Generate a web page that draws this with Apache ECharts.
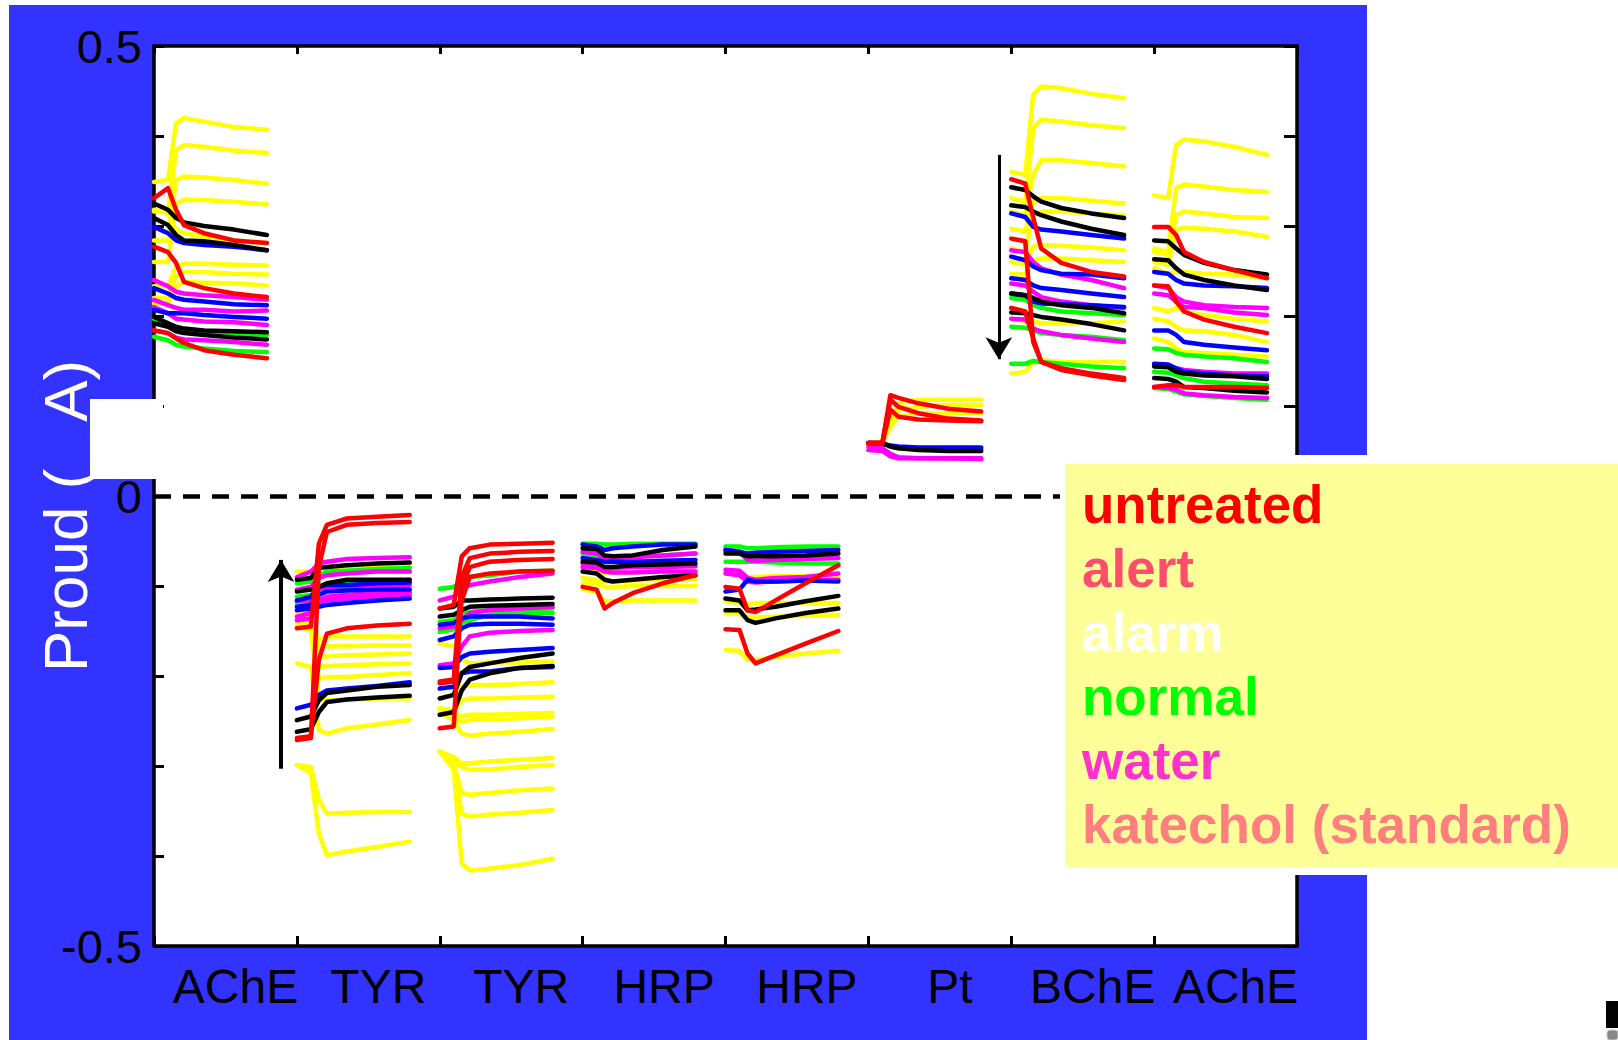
<!DOCTYPE html>
<html>
<head>
<meta charset="utf-8">
<script src="https://cdn.jsdelivr.net/npm/echarts@6/dist/echarts.min.js"></script>
<style>
  html, body { margin: 0; padding: 0; background: #ffffff; }
  #chart { width: 1618px; height: 1040px; }
</style>
</head>
<body>
<div id="chart"></div>
<script>
// Enzyme electrode responses: each band is one electrode, each trace one sample.
const bandLabels = ['AChE', 'TYR', 'TYR', 'HRP', 'HRP', 'Pt', 'BChE', 'AChE'];

// Sampling instants inside a band (fraction of band width)
const sampleTimes = [0, 0.098, 0.154, 0.21, 0.35, 0.56, 0.79];

// Trace key: Y yellow, G green, M magenta, B blue, K black, R red ; values in µA
const ache1Traces = [
  ['Y', 0.349, 0.351, 0.414, 0.420, 0.416, 0.410, 0.407],
  ['Y', 0.316, 0.316, 0.384, 0.390, 0.388, 0.384, 0.381],
  ['Y', 0.284, 0.284, 0.351, 0.355, 0.354, 0.351, 0.347],
  ['Y', 0.260, 0.260, 0.325, 0.329, 0.329, 0.327, 0.324],
  ['Y', 0.233, 0.233, 0.255, 0.258, 0.258, 0.257, 0.256],
  ['Y', 0.220, 0.220, 0.244, 0.249, 0.249, 0.247, 0.246],
  ['Y', 0.214, 0.214, 0.233, 0.238, 0.237, 0.236, 0.234],
  ['Y', 0.318, 0.314, 0.296, 0.292, 0.288, 0.284, 0.281],
  ['G', 0.197, 0.192, 0.186, 0.184, 0.183, 0.181, 0.179],
  ['G', 0.177, 0.173, 0.168, 0.166, 0.164, 0.161, 0.160],
  ['M', 0.240, 0.233, 0.227, 0.225, 0.223, 0.221, 0.218],
  ['M', 0.218, 0.212, 0.209, 0.207, 0.207, 0.205, 0.206],
  ['M', 0.210, 0.203, 0.197, 0.196, 0.194, 0.193, 0.190],
  ['M', 0.184, 0.181, 0.176, 0.174, 0.173, 0.171, 0.168],
  ['B', 0.299, 0.292, 0.284, 0.281, 0.279, 0.277, 0.273],
  ['B', 0.231, 0.225, 0.220, 0.218, 0.216, 0.213, 0.212],
  ['B', 0.207, 0.203, 0.203, 0.203, 0.201, 0.199, 0.197],
  ['K', 0.325, 0.318, 0.309, 0.304, 0.300, 0.296, 0.290],
  ['K', 0.309, 0.301, 0.290, 0.284, 0.283, 0.279, 0.273],
  ['K', 0.199, 0.192, 0.188, 0.186, 0.184, 0.183, 0.182],
  ['K', 0.192, 0.188, 0.183, 0.181, 0.179, 0.176, 0.174],
  ['R', 0.331, 0.342, 0.318, 0.301, 0.292, 0.284, 0.281],
  ['R', 0.277, 0.271, 0.259, 0.238, 0.231, 0.225, 0.221],
  ['R', 0.184, 0.181, 0.175, 0.170, 0.162, 0.157, 0.153]
];

const tyr1Traces = [
  ['Y', -0.084, -0.084, -0.080, -0.079, -0.078, -0.077, -0.077],
  ['Y', -0.130, -0.132, -0.160, -0.156, -0.156, -0.156, -0.156],
  ['Y', -0.132, -0.134, -0.167, -0.167, -0.167, -0.166, -0.166],
  ['Y', -0.134, -0.138, -0.179, -0.178, -0.177, -0.176, -0.175],
  ['Y', -0.138, -0.141, -0.190, -0.189, -0.188, -0.187, -0.186],
  ['Y', -0.141, -0.145, -0.203, -0.201, -0.201, -0.199, -0.197],
  ['Y', -0.145, -0.149, -0.227, -0.227, -0.226, -0.225, -0.225],
  ['Y', -0.186, -0.190, -0.260, -0.264, -0.258, -0.254, -0.249],
  ['Y', -0.299, -0.301, -0.338, -0.353, -0.352, -0.351, -0.351],
  ['Y', -0.299, -0.308, -0.375, -0.399, -0.395, -0.390, -0.384],
  ['G', -0.097, -0.095, -0.088, -0.084, -0.083, -0.081, -0.080],
  ['G', -0.112, -0.110, -0.103, -0.099, -0.097, -0.096, -0.095],
  ['G', -0.119, -0.117, -0.108, -0.104, -0.101, -0.097, -0.093],
  ['M', -0.090, -0.084, -0.075, -0.073, -0.070, -0.069, -0.068],
  ['M', -0.104, -0.101, -0.091, -0.088, -0.086, -0.084, -0.084],
  ['M', -0.116, -0.116, -0.104, -0.101, -0.100, -0.099, -0.099],
  ['M', -0.134, -0.130, -0.116, -0.112, -0.110, -0.108, -0.107],
  ['M', -0.138, -0.136, -0.119, -0.116, -0.114, -0.112, -0.110],
  ['B', -0.116, -0.112, -0.101, -0.099, -0.099, -0.097, -0.096],
  ['B', -0.123, -0.121, -0.110, -0.106, -0.105, -0.104, -0.104],
  ['B', -0.127, -0.125, -0.123, -0.121, -0.119, -0.116, -0.114],
  ['B', -0.236, -0.232, -0.221, -0.216, -0.214, -0.211, -0.207],
  ['K', -0.093, -0.091, -0.080, -0.079, -0.077, -0.075, -0.074],
  ['K', -0.106, -0.104, -0.101, -0.097, -0.093, -0.093, -0.093],
  ['K', -0.249, -0.245, -0.227, -0.219, -0.216, -0.212, -0.210],
  ['K', -0.262, -0.259, -0.240, -0.229, -0.226, -0.224, -0.222],
  ['R', -0.147, -0.145, -0.053, -0.032, -0.025, -0.023, -0.021],
  ['R', -0.271, -0.269, -0.079, -0.040, -0.032, -0.030, -0.029],
  ['R', -0.269, -0.267, -0.182, -0.153, -0.147, -0.144, -0.142]
];

const tyr2Traces = [
  ['Y', -0.164, -0.167, -0.182, -0.186, -0.185, -0.185, -0.184],
  ['Y', -0.236, -0.238, -0.212, -0.210, -0.210, -0.209, -0.207],
  ['Y', -0.236, -0.240, -0.227, -0.225, -0.225, -0.224, -0.223],
  ['Y', -0.236, -0.241, -0.245, -0.243, -0.243, -0.242, -0.241],
  ['Y', -0.241, -0.245, -0.251, -0.249, -0.248, -0.247, -0.245],
  ['Y', -0.241, -0.249, -0.264, -0.266, -0.264, -0.262, -0.259],
  ['Y', -0.284, -0.290, -0.297, -0.297, -0.295, -0.293, -0.291],
  ['Y', -0.284, -0.293, -0.301, -0.304, -0.304, -0.301, -0.299],
  ['Y', -0.284, -0.297, -0.330, -0.332, -0.330, -0.327, -0.325],
  ['Y', -0.284, -0.301, -0.353, -0.356, -0.354, -0.352, -0.349],
  ['Y', -0.284, -0.304, -0.408, -0.416, -0.414, -0.410, -0.403],
  ['G', -0.103, -0.101, -0.095, -0.090, -0.088, -0.084, -0.083],
  ['G', -0.140, -0.138, -0.132, -0.129, -0.127, -0.126, -0.125],
  ['G', -0.151, -0.148, -0.141, -0.138, -0.132, -0.130, -0.130],
  ['M', -0.116, -0.112, -0.104, -0.099, -0.095, -0.090, -0.086],
  ['M', -0.147, -0.145, -0.138, -0.130, -0.127, -0.125, -0.123],
  ['M', -0.188, -0.186, -0.167, -0.156, -0.152, -0.150, -0.149],
  ['B', -0.143, -0.141, -0.136, -0.134, -0.134, -0.134, -0.136],
  ['B', -0.160, -0.156, -0.147, -0.143, -0.142, -0.142, -0.143],
  ['B', -0.191, -0.190, -0.179, -0.175, -0.173, -0.171, -0.169],
  ['B', -0.214, -0.212, -0.197, -0.195, -0.195, -0.191, -0.190],
  ['K', -0.125, -0.123, -0.116, -0.116, -0.115, -0.114, -0.113],
  ['K', -0.134, -0.132, -0.127, -0.123, -0.122, -0.121, -0.120],
  ['K', -0.225, -0.221, -0.197, -0.190, -0.186, -0.180, -0.175],
  ['K', -0.243, -0.240, -0.216, -0.204, -0.197, -0.191, -0.189],
  ['R', -0.125, -0.121, -0.067, -0.058, -0.054, -0.053, -0.052],
  ['R', -0.206, -0.204, -0.090, -0.069, -0.064, -0.062, -0.061],
  ['R', -0.258, -0.256, -0.101, -0.079, -0.073, -0.071, -0.070],
  ['R', -0.208, -0.206, -0.116, -0.090, -0.086, -0.084, -0.083]
];

const hrp1Traces = [
  ['Y', -0.082, -0.084, -0.086, -0.085, -0.085, -0.084, -0.083],
  ['Y', -0.091, -0.093, -0.095, -0.095, -0.094, -0.093, -0.093],
  ['Y', -0.097, -0.098, -0.101, -0.101, -0.100, -0.100, -0.100],
  ['Y', -0.104, -0.106, -0.117, -0.117, -0.116, -0.116, -0.116],
  ['G', -0.053, -0.053, -0.054, -0.054, -0.053, -0.053, -0.053],
  ['G', -0.064, -0.066, -0.069, -0.067, -0.067, -0.066, -0.064],
  ['M', -0.062, -0.064, -0.069, -0.069, -0.068, -0.066, -0.064],
  ['M', -0.075, -0.077, -0.080, -0.080, -0.079, -0.079, -0.078],
  ['M', -0.079, -0.080, -0.084, -0.085, -0.085, -0.084, -0.084],
  ['B', -0.054, -0.056, -0.060, -0.058, -0.056, -0.054, -0.054],
  ['B', -0.069, -0.071, -0.073, -0.073, -0.073, -0.072, -0.071],
  ['K', -0.058, -0.059, -0.066, -0.067, -0.066, -0.060, -0.056],
  ['K', -0.073, -0.074, -0.079, -0.079, -0.077, -0.076, -0.075],
  ['K', -0.084, -0.086, -0.093, -0.095, -0.093, -0.090, -0.088],
  ['R', -0.101, -0.104, -0.125, -0.119, -0.108, -0.097, -0.088]
];

const hrp2Traces = [
  ['Y', -0.086, -0.087, -0.090, -0.090, -0.089, -0.089, -0.089],
  ['Y', -0.117, -0.119, -0.121, -0.119, -0.119, -0.119, -0.119],
  ['Y', -0.130, -0.131, -0.135, -0.135, -0.134, -0.133, -0.132],
  ['Y', -0.171, -0.172, -0.182, -0.182, -0.179, -0.175, -0.172],
  ['G', -0.056, -0.056, -0.058, -0.058, -0.057, -0.056, -0.056],
  ['G', -0.073, -0.073, -0.073, -0.073, -0.074, -0.075, -0.075],
  ['M', -0.060, -0.062, -0.071, -0.072, -0.071, -0.070, -0.069],
  ['M', -0.082, -0.083, -0.091, -0.093, -0.091, -0.090, -0.086],
  ['M', -0.086, -0.088, -0.095, -0.096, -0.095, -0.094, -0.093],
  ['B', -0.060, -0.062, -0.064, -0.063, -0.062, -0.061, -0.060],
  ['B', -0.106, -0.104, -0.093, -0.095, -0.095, -0.094, -0.095],
  ['K', -0.064, -0.064, -0.067, -0.067, -0.067, -0.066, -0.064],
  ['K', -0.114, -0.116, -0.127, -0.126, -0.123, -0.117, -0.111],
  ['K', -0.127, -0.127, -0.138, -0.141, -0.136, -0.130, -0.125],
  ['R', -0.101, -0.103, -0.127, -0.129, -0.116, -0.097, -0.077],
  ['R', -0.148, -0.149, -0.175, -0.186, -0.177, -0.164, -0.150]
];

const ptTraces = [
  ['Y', 0.059, 0.059, 0.084, 0.103, 0.107, 0.107, 0.107],
  ['Y', 0.059, 0.059, 0.081, 0.096, 0.099, 0.101, 0.101],
  ['Y', 0.059, 0.059, 0.077, 0.088, 0.092, 0.092, 0.092],
  ['G', 0.059, 0.058, 0.055, 0.053, 0.052, 0.052, 0.052],
  ['M', 0.055, 0.053, 0.047, 0.043, 0.042, 0.042, 0.042],
  ['M', 0.051, 0.050, 0.044, 0.042, 0.042, 0.042, 0.041],
  ['B', 0.059, 0.058, 0.056, 0.055, 0.054, 0.054, 0.054],
  ['K', 0.059, 0.059, 0.055, 0.053, 0.051, 0.050, 0.050],
  ['R', 0.059, 0.059, 0.112, 0.109, 0.103, 0.097, 0.094],
  ['R', 0.059, 0.059, 0.107, 0.099, 0.092, 0.086, 0.084],
  ['R', 0.059, 0.059, 0.096, 0.088, 0.085, 0.084, 0.083]
];

const bcheTraces = [
  ['Y', 0.360, 0.357, 0.446, 0.455, 0.453, 0.447, 0.442],
  ['Y', 0.331, 0.327, 0.409, 0.418, 0.416, 0.412, 0.409],
  ['Y', 0.316, 0.312, 0.357, 0.373, 0.373, 0.370, 0.366],
  ['Y', 0.297, 0.294, 0.327, 0.331, 0.331, 0.328, 0.325],
  ['Y', 0.275, 0.271, 0.312, 0.316, 0.316, 0.314, 0.312],
  ['Y', 0.260, 0.257, 0.277, 0.279, 0.278, 0.276, 0.273],
  ['Y', 0.247, 0.246, 0.262, 0.264, 0.264, 0.262, 0.260],
  ['Y', 0.197, 0.194, 0.194, 0.192, 0.192, 0.192, 0.194],
  ['Y', 0.136, 0.138, 0.149, 0.151, 0.149, 0.149, 0.149],
  ['G', 0.220, 0.218, 0.212, 0.209, 0.205, 0.203, 0.201],
  ['G', 0.188, 0.187, 0.184, 0.181, 0.179, 0.177, 0.173],
  ['G', 0.147, 0.147, 0.150, 0.149, 0.147, 0.144, 0.142],
  ['M', 0.273, 0.271, 0.260, 0.253, 0.246, 0.240, 0.231],
  ['M', 0.236, 0.234, 0.227, 0.221, 0.216, 0.212, 0.209],
  ['M', 0.197, 0.196, 0.186, 0.183, 0.179, 0.175, 0.171],
  ['B', 0.314, 0.310, 0.299, 0.296, 0.294, 0.290, 0.286],
  ['B', 0.266, 0.262, 0.255, 0.251, 0.247, 0.246, 0.242],
  ['B', 0.242, 0.240, 0.234, 0.231, 0.229, 0.225, 0.221],
  ['B', 0.225, 0.223, 0.216, 0.214, 0.213, 0.212, 0.210],
  ['K', 0.343, 0.340, 0.333, 0.327, 0.320, 0.314, 0.309],
  ['K', 0.323, 0.321, 0.316, 0.312, 0.305, 0.297, 0.290],
  ['K', 0.225, 0.223, 0.220, 0.216, 0.212, 0.209, 0.203],
  ['K', 0.204, 0.203, 0.201, 0.199, 0.196, 0.191, 0.184],
  ['R', 0.352, 0.347, 0.309, 0.275, 0.259, 0.249, 0.244],
  ['R', 0.286, 0.283, 0.171, 0.149, 0.142, 0.136, 0.131],
  ['R', 0.209, 0.205, 0.175, 0.149, 0.140, 0.134, 0.129]
];

const ache2Traces = [
  ['Y', 0.334, 0.331, 0.390, 0.396, 0.394, 0.388, 0.379],
  ['Y', 0.275, 0.271, 0.342, 0.346, 0.344, 0.340, 0.338],
  ['Y', 0.271, 0.268, 0.312, 0.316, 0.314, 0.310, 0.309],
  ['Y', 0.260, 0.257, 0.296, 0.298, 0.297, 0.294, 0.288],
  ['Y', 0.253, 0.247, 0.249, 0.249, 0.247, 0.246, 0.242],
  ['Y', 0.209, 0.205, 0.209, 0.205, 0.201, 0.197, 0.194],
  ['Y', 0.197, 0.194, 0.188, 0.184, 0.183, 0.179, 0.171],
  ['Y', 0.175, 0.171, 0.164, 0.160, 0.159, 0.157, 0.155],
  ['G', 0.164, 0.163, 0.159, 0.157, 0.155, 0.153, 0.149],
  ['G', 0.138, 0.137, 0.134, 0.131, 0.127, 0.125, 0.123],
  ['G', 0.120, 0.119, 0.116, 0.113, 0.111, 0.109, 0.107],
  ['M', 0.234, 0.231, 0.221, 0.216, 0.212, 0.210, 0.209],
  ['M', 0.225, 0.223, 0.216, 0.210, 0.209, 0.204, 0.201],
  ['M', 0.146, 0.144, 0.142, 0.140, 0.138, 0.136, 0.136],
  ['M', 0.121, 0.120, 0.118, 0.114, 0.112, 0.110, 0.109],
  ['B', 0.249, 0.247, 0.240, 0.236, 0.234, 0.233, 0.231],
  ['B', 0.184, 0.184, 0.179, 0.171, 0.168, 0.165, 0.162],
  ['B', 0.147, 0.146, 0.142, 0.138, 0.136, 0.134, 0.133],
  ['K', 0.284, 0.283, 0.275, 0.268, 0.259, 0.251, 0.246],
  ['K', 0.263, 0.262, 0.253, 0.246, 0.240, 0.234, 0.229],
  ['K', 0.144, 0.143, 0.138, 0.136, 0.134, 0.133, 0.130],
  ['K', 0.131, 0.130, 0.127, 0.121, 0.120, 0.117, 0.115],
  ['R', 0.299, 0.299, 0.290, 0.271, 0.260, 0.251, 0.242],
  ['R', 0.234, 0.233, 0.216, 0.205, 0.196, 0.188, 0.181],
  ['R', 0.121, 0.123, 0.123, 0.121, 0.121, 0.121, 0.120]
];

const bands = [ache1Traces, tyr1Traces, tyr2Traces, hrp1Traces, hrp2Traces, ptTraces, bcheTraces, ache2Traces];

// Arrows marking the direction of change: [x, from, to]
const upArrow = [0.889, -0.303, -0.071];
const downArrow = [5.913, 0.379, 0.152];

const legendLabels = ['untreated', 'alert', 'alarm', 'normal', 'water', 'katechol (standard)'];

// ---- styling ----
const FONT = '"Liberation Sans", Arial, Helvetica, sans-serif';
const traceColors = { Y: '#FFFF00', G: '#00FF00', M: '#FF00FF', B: '#0000FF', K: '#000000', R: '#FF0000' };
const traceLayer = { Y: 1, G: 2, M: 3, B: 4, K: 5, R: 6 };
const legendColors = ['#FF0000', '#FF4D6D', '#FFFFFF', '#00FF00', '#FF33CC', '#FF7F7F'];

const series = [];
bands.forEach((traces, b) => {
  traces.forEach(([key, ...vals]) => {
    series.push({
      type: 'line',
      xAxisIndex: 0,
      yAxisIndex: 0,
      data: vals.map((v, i) => [b + sampleTimes[i], v]),
      showSymbol: false,
      symbol: 'none',
      silent: true,
      z: 2 + traceLayer[key],
      lineStyle: { color: traceColors[key], width: 4.5, cap: 'round', join: 'round' }
    });
  });
});

// zero reference line and the two arrows
series.push({
  type: 'line',
  xAxisIndex: 0,
  yAxisIndex: 0,
  data: [[0, 0]],
  showSymbol: false,
  symbol: 'none',
  silent: true,
  lineStyle: { opacity: 0 },
  z: 10,
  markLine: {
    silent: true,
    animation: false,
    label: { show: false },
    symbol: ['none', 'arrow'],
    symbolSize: [20, 22],
    data: [
      { yAxis: 0, symbol: 'none', lineStyle: { color: '#000', width: 4.5, type: [17, 12] } },
      [
        { coord: [upArrow[0], upArrow[1]], lineStyle: { color: '#000', width: 4, type: 'solid' } },
        { coord: [upArrow[0], upArrow[2]] }
      ],
      [
        { coord: [downArrow[0], downArrow[1]], lineStyle: { color: '#000', width: 3, type: 'solid' } },
        { coord: [downArrow[0], downArrow[2]] }
      ]
    ]
  }
});

const tickLabel = v => {
  if (Math.abs(v - 0.5) < 1e-6) return '0.5';
  if (Math.abs(v) < 1e-6) return '0';
  if (Math.abs(v + 0.5) < 1e-6) return '-0.5';
  return '';
};

const frameLine = { show: true, onZero: false, lineStyle: { color: '#000', width: 3.5 } };

const legendGraphics = legendLabels.map((t, i) => ({
  type: 'text',
  z: 102,
  silent: true,
  x: 1082,
  y: 504 + i * 64,
  style: {
    text: t,
    fill: legendColors[i],
    font: 'bold 53px ' + FONT,
    align: 'left',
    verticalAlign: 'middle'
  }
}));

const option = {
  animation: false,
  grid: {
    left: 154, right: 321, top: 46, bottom: 94,
    show: true, backgroundColor: '#ffffff', borderWidth: 0
  },
  xAxis: [
    {
      type: 'value', min: 0, max: 8, interval: 1, position: 'bottom',
      axisLine: frameLine,
      axisTick: { show: true, inside: true, length: 10, lineStyle: { color: '#000', width: 3 } },
      axisLabel: { show: false },
      splitLine: { show: false }
    },
    {
      type: 'value', min: 0, max: 8, interval: 1, position: 'top',
      axisLine: frameLine,
      axisTick: { show: true, inside: true, length: 8, lineStyle: { color: '#000', width: 3 } },
      axisLabel: { show: false },
      splitLine: { show: false }
    },
    {
      type: 'category', position: 'bottom', data: bandLabels,
      axisLine: { show: false },
      axisTick: { show: false },
      splitLine: { show: false },
      axisLabel: {
        interval: 0, margin: 16, color: '#000', fontSize: 48, fontFamily: FONT,
        padding: [0, 0, 0, 20]
      }
    }
  ],
  yAxis: [
    {
      type: 'value', min: -0.5, max: 0.5, interval: 0.1, position: 'left',
      axisLine: frameLine,
      axisTick: { show: true, inside: true, length: 10, lineStyle: { color: '#000', width: 3 } },
      axisLabel: {
        formatter: tickLabel, margin: 12, color: '#000', fontSize: 47, fontFamily: FONT,
        padding: [16, 0, 0, 0]
      },
      splitLine: { show: false }
    },
    {
      type: 'value', min: -0.5, max: 0.5, interval: 0.1, position: 'right',
      axisLine: frameLine,
      axisTick: { show: true, inside: true, length: 13, lineStyle: { color: '#000', width: 3 } },
      axisLabel: { show: false },
      splitLine: { show: false }
    }
  ],
  graphic: [
    { type: 'rect', z: -100, silent: true, shape: { x: 9, y: 5, width: 1358, height: 1035 }, style: { fill: '#3333FF' } },
    {
      type: 'text', z: 50, silent: true, x: 65, y: 672, rotation: Math.PI / 2,
      style: { text: 'Proud (  \u2009A)', fill: '#FFFFFF', font: '62px ' + FONT, align: 'left', verticalAlign: 'middle' }
    },
    { type: 'rect', z: 100, silent: true, shape: { x: 90, y: 399, width: 73, height: 80 }, style: { fill: '#FFFFFF' } },
    { type: 'rect', z: 100, silent: true, shape: { x: 1060, y: 455, width: 558, height: 420 }, style: { fill: '#FFFFFF' } },
    { type: 'rect', z: 101, silent: true, shape: { x: 1065, y: 464, width: 553, height: 403 }, style: { fill: '#FFFF99' } },
    ...legendGraphics,
    { type: 'rect', z: 100, silent: true, shape: { x: 1606, y: 1001, width: 12, height: 27 }, style: { fill: '#000000' } },
    { type: 'rect', z: 100, silent: true, shape: { x: 1607, y: 1030, width: 11, height: 10, r: 3 }, style: { fill: '#888888', stroke: '#cccccc', lineWidth: 1 } }
  ],
  series: series
};

const chart = echarts.init(document.getElementById('chart'), null, { renderer: 'svg' });
chart.setOption(option);
</script>
</body>
</html>
